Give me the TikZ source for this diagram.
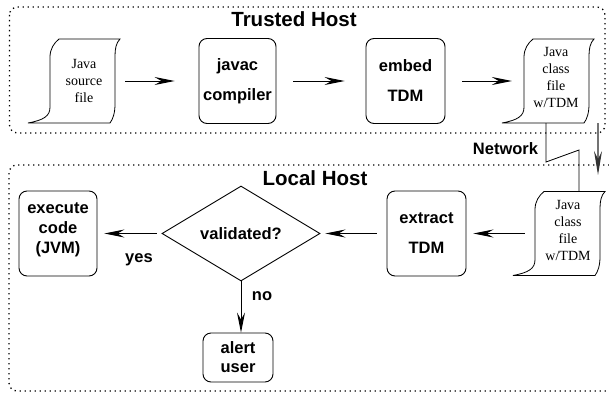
\documentclass[tikz,border=0pt]{standalone}
\usepackage{fontspec}
\setmainfont{Liberation Serif}
\setsansfont{Liberation Sans}
\usetikzlibrary{shapes.geometric,arrows.meta,calc}
\begin{document}
\begin{tikzpicture}[x=1pt,y=-1pt,
  lbl/.style={font=\sffamily\bfseries\fontsize{16.5}{20}\selectfont, inner sep=0pt, anchor=base},
  ttl/.style={font=\sffamily\bfseries\fontsize{20.5}{24}\selectfont, inner sep=0pt, anchor=base},
  procbox/.style={draw, rounded corners=8pt, line width=0.9pt, align=center, inner sep=0pt,
    font=\sffamily\bfseries\fontsize{16.5}{30}\selectfont},
  boxtext/.style={align=center, inner sep=0pt, font=\sffamily\bfseries\fontsize{16.5}{20}\selectfont},
  docbox/.style={minimum width=92pt, minimum height=84pt, inner sep=0pt},
  doctext/.style={align=center, inner sep=0pt, font=\fontsize{14}{17}\selectfont},
  hostbox/.style={draw, line width=1.3pt, dash pattern=on 1.3pt off 3.7pt, rounded corners=8pt},
  arr/.style={line width=0.9pt, -{Stealth[length=20pt,width=8pt,inset=7pt]}},
  grayarr/.style={draw=black!55, line width=1.2pt, -{Stealth[black!80,length=24pt,width=8pt,inset=8pt]}},
  docshape/.pic={\draw[line width=0.8pt] (-15,-42) -- (46,-42)
     .. controls (42,-38) and (41,-32) .. (41,-25) -- (41,23)
     .. controls (41,32) and (39,38) .. (36,42) -- (-46,42)
     .. controls (-30,39) and (-24,35) .. (-24,26) -- (-24,-24)
     .. controls (-24,-32) and (-20,-38) .. (-15,-42) -- cycle;}
]
\useasboundingbox (0,0) rectangle (609,396);
\clip (0,0) rectangle (609,396);

% host regions
\draw[hostbox] (9.5,7) rectangle (605,133);
\draw[hostbox] (9,165) rectangle (640,391);
\node[ttl] (th) at (294,26.5) {Trusted Host};
\node[ttl] (lh) at (315,185.7) {Local Host};

% top row
\node[docbox] (src) at (74,81) {};
\pic at (src) {docshape};
\node[doctext] (srct) at ([xshift=10pt]src.center) {Java\\source\\file};

\node[procbox, minimum width=77pt, minimum height=85pt] (javac) at (237.5,81) {javac\\compiler};
\node[procbox, minimum width=79pt, minimum height=85pt] (embed) at (405.5,81) {embed\\TDM};

\node[docbox] (cls) at (548,81) {};
\pic at (cls) {docshape};
\node[doctext] (clst) at ([xshift=8pt,yshift=3.5pt]cls.center) {Java\\class\\file\\w/TDM};

\draw[arr] ([xshift=5pt]src.east) -- ([xshift=-24pt]javac.west);
\draw[arr] ([xshift=17pt]javac.east) -- ([xshift=-21pt]embed.west);
\draw[arr] ([xshift=17pt]embed.east) -- ([xshift=10pt]cls.west);

% network
\node[docbox] (cls2) at (559,233.5) {};
\pic at (cls2) {docshape};
\node[doctext] (cls2t) at ([xshift=9pt,yshift=3pt]cls2.center) {Java\\class\\file\\w/TDM};

\coordinate (n0) at (546,162);
\coordinate (n1) at (579,150);
\draw[line width=0.8pt] (cls.south -| n0) -- (n0) -- (n1) -- (n1 |- cls2.north);
\node[lbl] (net) at (505.5,154.3) {Network};

\coordinate (g0) at (598,123);
\coordinate (g1) at (598,175);
\draw[grayarr] (g0) -- (g1);

% bottom row
\node[procbox, minimum width=79pt, minimum height=85pt] (extract) at (426.5,233.5) {extract\\TDM};
\node[draw, diamond, line width=0.9pt, minimum width=158pt, minimum height=95pt, inner sep=0pt,
  font=\sffamily\bfseries\fontsize{16.5}{20}\selectfont] (val) at (241,233.5) {validated?};
\node[procbox, minimum width=78pt, minimum height=85pt] (exe) at (58,233.5) {};
\node[boxtext] (exet) at (58,229.5) {execute\\code\\(JVM)};
\node[procbox, minimum width=70pt, minimum height=49pt,
  font=\sffamily\bfseries\fontsize{16.5}{19}\selectfont] (alert) at (238,357.5) {alert\\user};

\draw[arr] ([xshift=12pt]cls2.west) -- ([xshift=7pt]extract.east);
\draw[arr] ([xshift=-10pt]extract.west) -- ([xshift=5pt]val.east);
\draw[arr] ([xshift=-5pt]val.west) -- ([xshift=7pt]exe.east);
\draw[arr] (val.south) -- (val.south |- alert.north);

\node[lbl] (yes) at (139,262) {yes};
\node[lbl] (no) at (262,300.7) {no};
\end{tikzpicture}
\end{document}
